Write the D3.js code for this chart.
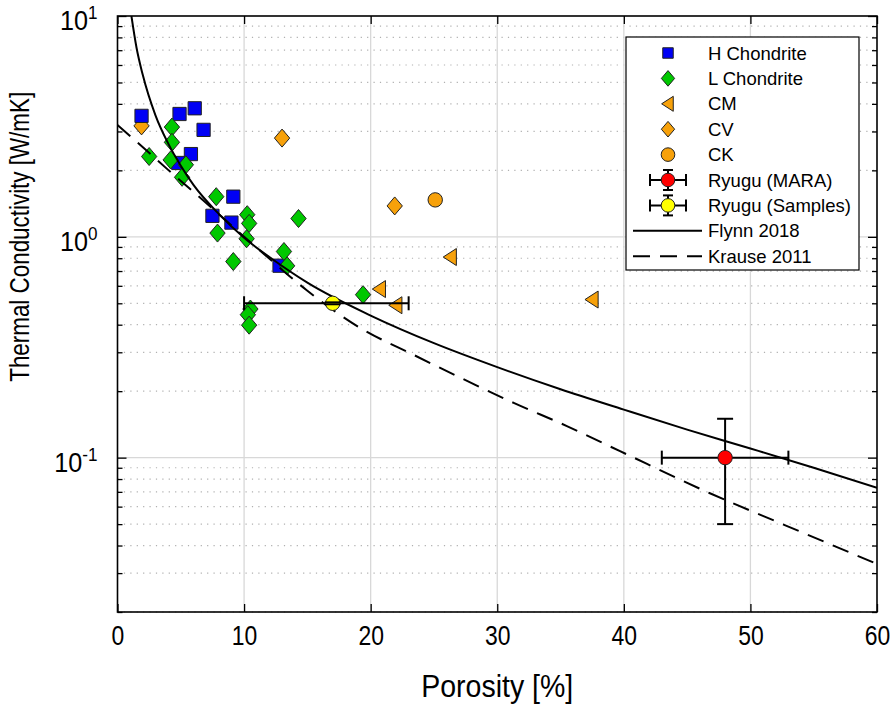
<!DOCTYPE html>
<html>
<head>
<meta charset="utf-8">
<script src="https://cdn.jsdelivr.net/npm/d3@7"></script>
<style>
  body { margin: 0; background: #fff; }
  text { font-family: "Liberation Sans", Arial, sans-serif; fill: #000; }
</style>
</head>
<body>
<div id="chart"></div>
<script>
// porosity [%] and thermal conductivity [W/mK]
const hPorosity = [1.9, 4.9, 6.1, 6.8, 5.8, 4.8, 9.15, 7.5, 9.0, 12.8];
const hK = [3.53, 3.6, 3.82, 3.05, 2.37, 2.16, 1.52, 1.245, 1.16, 0.74];

const lPorosity = [4.3, 4.3, 2.5, 4.2, 5.4, 5.1, 7.8, 7.9, 10.25, 10.4, 10.2, 9.15, 14.3, 13.15, 13.4, 10.5, 10.3, 10.4, 19.4];
const lK = [3.14, 2.68, 2.31, 2.23, 2.12, 1.86, 1.52, 1.04, 1.26, 1.15, 0.98, 0.773, 1.21, 0.858, 0.739, 0.471, 0.444, 0.398, 0.547];

const cmPorosity = [26.3, 20.7, 22.0, 37.5];
const cmK = [0.81, 0.58, 0.49, 0.52];

const cvPorosity = [1.9, 13.0, 21.9];
const cvK = [3.18, 2.8, 1.38];

const ckPorosity = [25.1];
const ckK = [1.47];

// Ryugu: value, low, high
const maraPorosity = [48, 43, 53];
const maraK = [0.1, 0.05, 0.15];
const samplesPorosity = [17, 10, 23];
const samplesK = [0.5, 0.495, 0.505];

// model curves
const flynnPorosity = [1.1, 1.5, 2, 3, 4, 5, 6, 8, 10, 12, 15, 20, 25, 30, 35, 40, 45, 50, 55, 60];
const flynnK = [10, 7.2, 5.4, 3.55, 2.65, 2.1, 1.72, 1.27, 0.99, 0.81, 0.62, 0.44, 0.33, 0.257, 0.204, 0.165, 0.134, 0.11, 0.09, 0.073];
const krausePorosity = [0, 1.5, 4, 6.1, 11.8, 14.9, 19.2, 23.4, 27.1, 31.3, 35.5, 39.7, 46.8, 52.9, 60];
const krauseK = [3.21, 2.7, 2.01, 1.58, 0.814, 0.576, 0.386, 0.292, 0.23, 0.177, 0.139, 0.107, 0.069, 0.049, 0.033];

const xTicks = [0, 10, 20, 30, 40, 50, 60];
const yTicks = [10, 1, 0.1];
const yTickExp = ["1", "0", "-1"];

const legendLabels = ["H Chondrite", "L Chondrite", "CM", "CV", "CK", "Ryugu (MARA)", "Ryugu (Samples)", "Flynn 2018", "Krause 2011"];

const width = 896, height = 707;
const margin = { top: 16, right: 19, bottom: 95, left: 117.5 };
const innerW = width - margin.left - margin.right;
const innerH = height - margin.top - margin.bottom;

const svg = d3.select("#chart").append("svg")
  .attr("width", width)
  .attr("height", height);

const g = svg.append("g")
  .attr("transform", `translate(${margin.left},${margin.top})`);

const x = d3.scaleLinear().domain([0, 60]).range([0, innerW]);
const y = d3.scaleLog().domain([0.02, 10]).range([innerH, 0]);

// minor y values for dotted grid
const minorY = [];
[0.01, 0.1, 1].forEach((d) => {
  for (let i = 2; i <= 9; i++) {
    const v = d * i;
    if (v >= 0.02 && v < 10) minorY.push(v);
  }
});

// dotted minor grid
g.append("g").selectAll("line")
  .data(minorY)
  .enter().append("line")
  .attr("x1", 0).attr("x2", innerW)
  .attr("y1", (d) => y(d)).attr("y2", (d) => y(d))
  .attr("stroke", "#b0b0b0")
  .attr("stroke-width", 1.2)
  .attr("stroke-dasharray", "1.2,5.2");

// major grid
g.append("g").selectAll("line")
  .data([1, 0.1])
  .enter().append("line")
  .attr("x1", 0).attr("x2", innerW)
  .attr("y1", (d) => y(d)).attr("y2", (d) => y(d))
  .attr("stroke", "#d8d8d8").attr("stroke-width", 1.3);

g.append("g").selectAll("line")
  .data(xTicks.slice(1, -1))
  .enter().append("line")
  .attr("x1", (d) => x(d)).attr("x2", (d) => x(d))
  .attr("y1", 0).attr("y2", innerH)
  .attr("stroke", "#d8d8d8").attr("stroke-width", 1.3);

// axes with inward ticks
g.append("g")
  .attr("transform", `translate(0,${innerH})`)
  .call(d3.axisBottom(x).tickValues(xTicks).tickSize(-8).tickFormat(d3.format("d")))
  .call((a) => a.select(".domain").remove())
  .call((a) => a.selectAll("text")
    .attr("font-size", 27)
    .attr("y", null).attr("dy", null)
    .attr("transform", "translate(0,33) scale(0.85,1)"));

g.append("g")
  .call(d3.axisTop(x).tickValues(xTicks).tickSize(-8).tickFormat(""))
  .call((a) => a.select(".domain").remove());

g.append("g")
  .call(d3.axisLeft(y).tickValues(minorY).tickSize(-5).tickFormat(""))
  .call((a) => a.select(".domain").remove());
g.append("g")
  .call(d3.axisLeft(y).tickValues(yTicks).tickSize(-9).tickFormat(""))
  .call((a) => a.select(".domain").remove());
g.append("g")
  .attr("transform", `translate(${innerW},0)`)
  .call(d3.axisRight(y).tickValues(minorY).tickSize(-5).tickFormat(""))
  .call((a) => a.select(".domain").remove());
g.append("g")
  .attr("transform", `translate(${innerW},0)`)
  .call(d3.axisRight(y).tickValues(yTicks).tickSize(-9).tickFormat(""))
  .call((a) => a.select(".domain").remove());

g.selectAll(".tick line").attr("stroke", "#000").attr("stroke-width", 1.3);

// y tick labels 10^n
const yLab = g.append("g").selectAll("text")
  .data(yTicks)
  .enter().append("text")
  .attr("transform", (d) => `translate(-20,${y(d) + 14}) scale(0.9,1)`)
  .attr("text-anchor", "end")
  .attr("font-size", 28);
yLab.append("tspan").text("10");
yLab.append("tspan").attr("dy", -11).attr("font-size", 19).text((d, i) => yTickExp[i]);

// box
g.append("rect")
  .attr("width", innerW).attr("height", innerH)
  .attr("fill", "none").attr("stroke", "#000").attr("stroke-width", 1.6);

// clip for curves
svg.append("clipPath").attr("id", "clip")
  .append("rect").attr("width", innerW).attr("height", innerH);

const plot = g.append("g").attr("clip-path", "url(#clip)");

// markers
const sq = d3.symbol().type(d3.symbolSquare).size(175);
const dia = (s) => `M0,${-s}L${s * 0.85},0L0,${s}L${-s * 0.85},0Z`;
const triLeft = (s) => `M${-s * 0.85},0L${s * 0.7},${-s}L${s * 0.7},${s}Z`;
const mStroke = "#222";
const orange = "#f7a10a";

const zip = (a, b) => a.map((v, i) => [v, b[i]]);

plot.append("g").selectAll("path")
  .data(zip(cmPorosity, cmK)).enter().append("path")
  .attr("d", triLeft(8.5))
  .attr("transform", (d) => `translate(${x(d[0])},${y(d[1])})`)
  .attr("fill", orange).attr("stroke", mStroke).attr("stroke-width", 1);

plot.append("g").selectAll("path")
  .data(zip(cvPorosity, cvK)).enter().append("path")
  .attr("d", dia(9))
  .attr("transform", (d) => `translate(${x(d[0])},${y(d[1])})`)
  .attr("fill", orange).attr("stroke", mStroke).attr("stroke-width", 1);

plot.append("g").selectAll("circle")
  .data(zip(ckPorosity, ckK)).enter().append("circle")
  .attr("cx", (d) => x(d[0])).attr("cy", (d) => y(d[1])).attr("r", 7.2)
  .attr("fill", orange).attr("stroke", mStroke).attr("stroke-width", 1);

plot.append("g").selectAll("path")
  .data(zip(hPorosity, hK)).enter().append("path")
  .attr("d", sq)
  .attr("transform", (d) => `translate(${x(d[0])},${y(d[1])})`)
  .attr("fill", "#0000f5").attr("stroke", mStroke).attr("stroke-width", 1);

plot.append("g").selectAll("path")
  .data(zip(lPorosity, lK)).enter().append("path")
  .attr("d", dia(9))
  .attr("transform", (d) => `translate(${x(d[0])},${y(d[1])})`)
  .attr("fill", "#00c800").attr("stroke", mStroke).attr("stroke-width", 1);

// curves
const line = d3.line()
  .x((d) => x(d[0]))
  .y((d) => y(d[1]))
  .curve(d3.curveMonotoneX);

plot.append("path")
  .datum(zip(flynnPorosity, flynnK))
  .attr("fill", "none").attr("stroke", "#000").attr("stroke-width", 2)
  .attr("d", line);

plot.append("path")
  .datum(zip(krausePorosity, krauseK))
  .attr("fill", "none").attr("stroke", "#000").attr("stroke-width", 2)
  .attr("stroke-dasharray", "17,10")
  .attr("d", line);

// error bars
function errorBar(px, pk, fill) {
  const cx = x(px[0]), cy = y(pk[0]);
  const e = plot.append("g").attr("stroke", "#000").attr("stroke-width", 2);
  e.append("line").attr("x1", x(px[1])).attr("x2", x(px[2])).attr("y1", cy).attr("y2", cy);
  e.append("line").attr("x1", x(px[1])).attr("x2", x(px[1])).attr("y1", cy - 7).attr("y2", cy + 7);
  e.append("line").attr("x1", x(px[2])).attr("x2", x(px[2])).attr("y1", cy - 7).attr("y2", cy + 7);
  e.append("line").attr("x1", cx).attr("x2", cx).attr("y1", y(pk[1])).attr("y2", y(pk[2]));
  plot.append("circle").attr("cx", cx).attr("cy", cy).attr("r", 7.2)
    .attr("fill", fill).attr("stroke", mStroke).attr("stroke-width", 1);
  const c = plot.append("g").attr("stroke", "#000").attr("stroke-width", 2);
  c.append("line").attr("x1", cx - 8).attr("x2", cx + 8).attr("y1", y(pk[1])).attr("y2", y(pk[1]));
  c.append("line").attr("x1", cx - 8).attr("x2", cx + 8).attr("y1", y(pk[2])).attr("y2", y(pk[2]));
}
errorBar(maraPorosity, maraK, "#ff0000");
errorBar(samplesPorosity, samplesK, "#ffff00");

// axis labels
svg.append("text")
  .attr("transform", `translate(${margin.left + innerW / 2},697) scale(0.92,1)`)
  .attr("text-anchor", "middle")
  .attr("font-size", 31)
  .text("Porosity [%]");

svg.append("text")
  .attr("transform", `translate(29,${margin.top + y(1)}) rotate(-90) scale(0.8,1)`)
  .attr("text-anchor", "middle")
  .attr("font-size", 28)
  .text("Thermal Conductivity [W/mK]");

// legend
const lg = svg.append("g").attr("transform", "translate(626,37)");
lg.append("rect").attr("width", 233).attr("height", 233)
  .attr("fill", "#fff").attr("stroke", "#000").attr("stroke-width", 1.2);

const rowY = (i) => 16 + i * 25.4;
const mx = 42;
lg.selectAll("text.lab")
  .data(legendLabels).enter().append("text")
  .attr("class", "lab")
  .attr("x", 82)
  .attr("y", (d, i) => rowY(i) + 6.5)
  .attr("font-size", 18.5)
  .text((d) => d);

lg.append("path").attr("d", d3.symbol().type(d3.symbolSquare).size(110))
  .attr("transform", `translate(${mx},${rowY(0)})`).attr("fill", "#0000f5").attr("stroke", mStroke);
lg.append("path").attr("d", dia(7.8))
  .attr("transform", `translate(${mx},${rowY(1)})`).attr("fill", "#00c800").attr("stroke", mStroke);
lg.append("path").attr("d", triLeft(7.5))
  .attr("transform", `translate(${mx},${rowY(2)})`).attr("fill", orange).attr("stroke", mStroke);
lg.append("path").attr("d", dia(7.8))
  .attr("transform", `translate(${mx},${rowY(3)})`).attr("fill", orange).attr("stroke", mStroke);
lg.append("circle").attr("r", 6.8)
  .attr("transform", `translate(${mx},${rowY(4)})`).attr("fill", orange).attr("stroke", mStroke);

[["#ff0000", 5], ["#ffff00", 6]].forEach(([fill, i]) => {
  const e = lg.append("g").attr("transform", `translate(${mx},${rowY(i)})`);
  const s = e.append("g").attr("stroke", "#000").attr("stroke-width", 2);
  s.append("line").attr("x1", -18).attr("x2", 18);
  s.append("line").attr("x1", -18).attr("x2", -18).attr("y1", -6).attr("y2", 6);
  s.append("line").attr("x1", 18).attr("x2", 18).attr("y1", -6).attr("y2", 6);
  s.append("line").attr("y1", -10).attr("y2", 10);
  s.append("line").attr("x1", -5).attr("x2", 5).attr("y1", -10).attr("y2", -10);
  s.append("line").attr("x1", -5).attr("x2", 5).attr("y1", 10).attr("y2", 10);
  e.append("circle").attr("r", 6.8).attr("fill", fill).attr("stroke", mStroke);
});

lg.append("line").attr("x1", 7).attr("x2", 76).attr("y1", rowY(7)).attr("y2", rowY(7))
  .attr("stroke", "#000").attr("stroke-width", 2);
lg.append("line").attr("x1", 7).attr("x2", 76).attr("y1", rowY(8)).attr("y2", rowY(8))
  .attr("stroke", "#000").attr("stroke-width", 2).attr("stroke-dasharray", "17,10");
</script>
</body>
</html>
